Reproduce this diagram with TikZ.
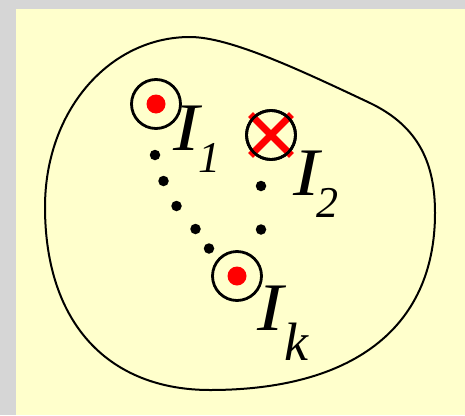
\documentclass[tikz,border=0pt]{standalone}
\usepackage{fontspec}
\usepackage{graphicx}
\setmainfont{Liberation Serif}
\definecolor{bgyellow}{RGB}{255,255,204}
\definecolor{bggray}{RGB}{214,214,214}
\definecolor{curred}{RGB}{255,0,0}
\begin{document}
\begin{tikzpicture}[x=1pt,y=-1pt,
  wire/.style={draw=black,circle,line width=2.8pt,minimum size=49pt,inner sep=0pt},
  reddot/.style={fill=curred,circle,minimum size=19pt,inner sep=0pt},
  blackdot/.style={fill=black,circle,minimum size=10.5pt,inner sep=0pt},
  crossline/.style={draw=curred,line width=7pt,shorten >=-3pt,shorten <=-3pt},
  contour/.style={draw=black,line width=2pt},
  lbl/.style={anchor=base west,inner sep=0pt,font=\itshape}]
\fill[bggray] (0,0) rectangle (465,415);
\fill[bgyellow] (16,9) rectangle (465,415);
\useasboundingbox (0,0) rectangle (465,415);
% closed contour
\draw[contour] (45,207) .. controls (45,110) and (110,37) .. (190,37)
  .. controls (230,37) and (300,70) .. (370,103)
  .. controls (420,127) and (435,165) .. (435,213)
  .. controls (435,330) and (350,390) .. (210,390)
  .. controls (110,390) and (45,325) .. (45,207) -- cycle;
% currents
\node[wire] (c1) at (156,104) {};
\node[wire] (c2) at (271,135) {};
\node[wire] (ck) at (237,276) {};
\node[reddot] (r1) at (c1.center) {};
\node[reddot] (rk) at (ck.center) {};
\draw[crossline] (c2.north west) -- (c2.south east);
\draw[crossline] (c2.north east) -- (c2.south west);
\node[wire] (c2b) at (c2.center) {};
% dots
\node[blackdot] (a1) at (155,155) {};
\node[blackdot] (a2) at (163.5,181) {};
\node[blackdot] (a3) at (176.5,206) {};
\node[blackdot] (a4) at (195.5,229) {};
\node[blackdot] (a5) at (209,248.5) {};
\node[blackdot] (b1) at (261,186) {};
\node[blackdot] (b2) at (261,229.5) {};
% labels
\node[lbl] (l1) at (173.5,150) {\fontsize{68}{68}\selectfont\scalebox{1.15}[1]{I}\hspace{-1.5pt}\raisebox{-22pt}{\fontsize{44}{44}\selectfont 1}};
\node[lbl] (l2) at (293.5,195) {\fontsize{68}{68}\selectfont\scalebox{1.15}[1]{I}\hspace{-3.5pt}\raisebox{-22pt}{\fontsize{44}{44}\selectfont 2}};
\node[lbl] (lk) at (257.5,330) {\fontsize{68}{68}\selectfont\scalebox{1.15}[1]{I}\hspace{1pt}\raisebox{-30pt}{\fontsize{54}{54}\selectfont k}};
\end{tikzpicture}
\end{document}
